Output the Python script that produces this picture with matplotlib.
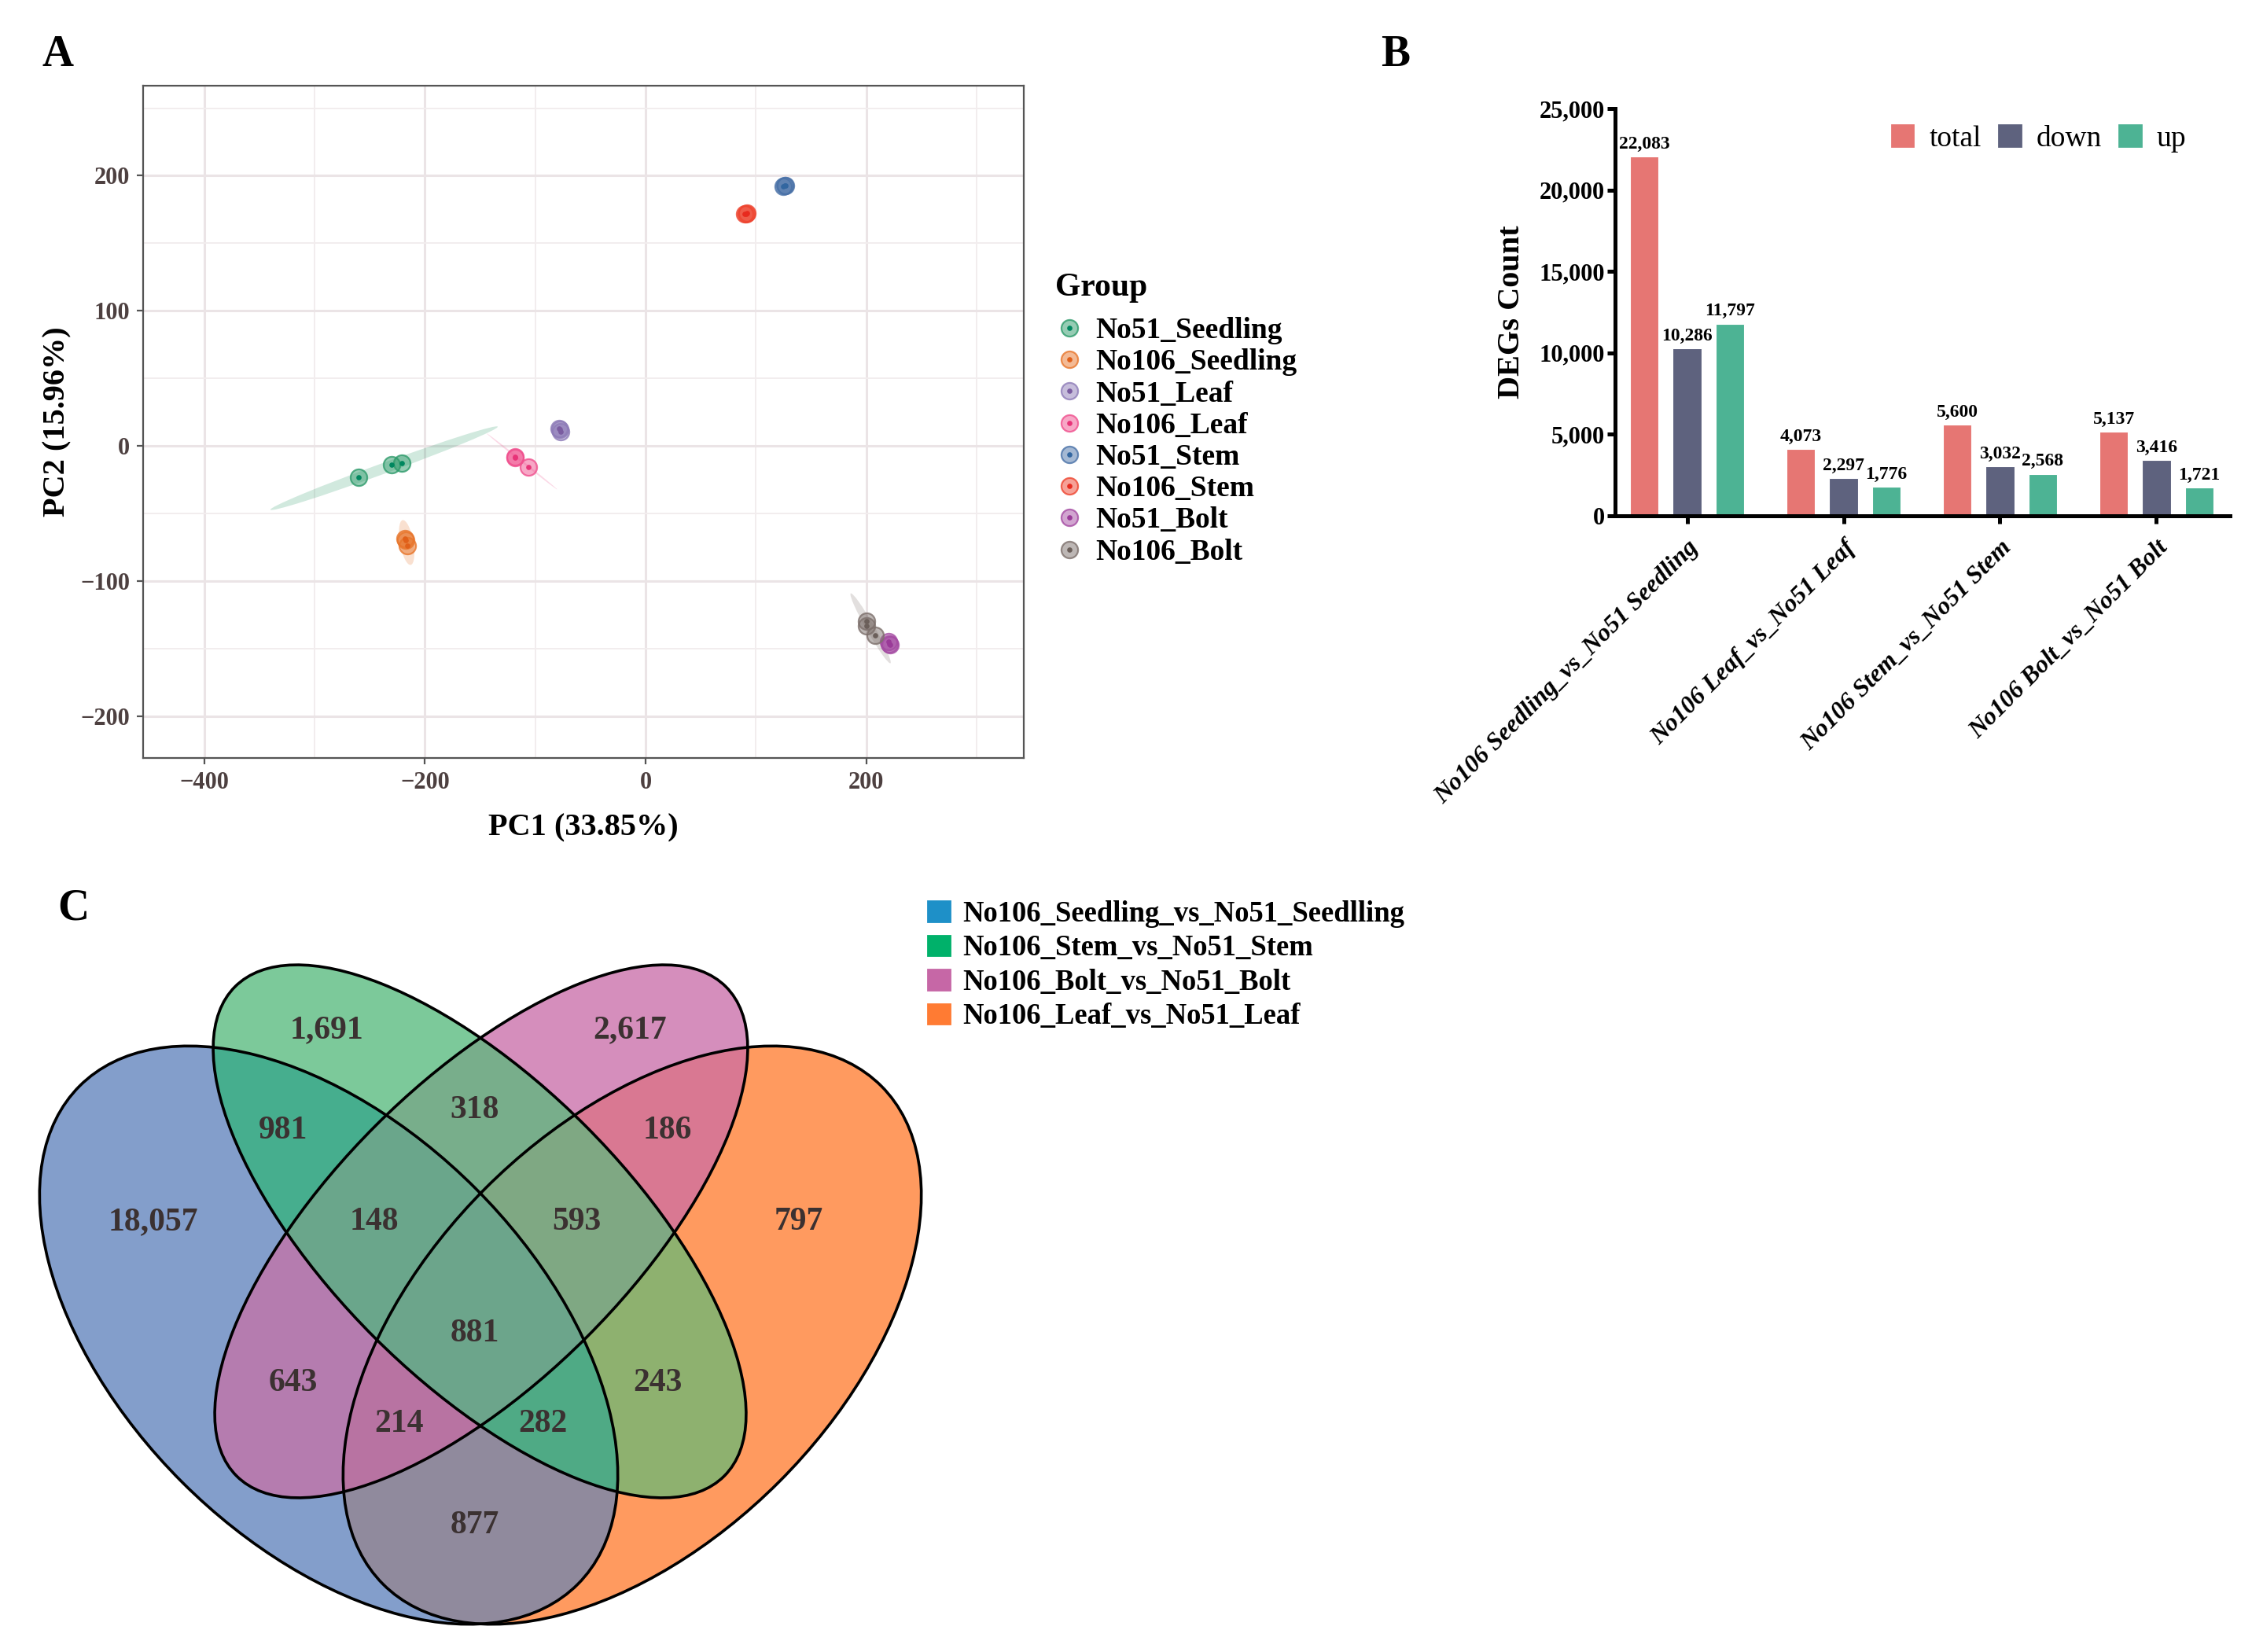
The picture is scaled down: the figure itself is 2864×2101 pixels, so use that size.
import numpy as np
import matplotlib.pyplot as plt
from matplotlib.patches import Ellipse, Patch
from matplotlib.lines import Line2D
from matplotlib.ticker import FuncFormatter, MultipleLocator
from matplotlib.colors import to_rgba

plt.rcParams['font.family'] = ['Liberation Serif', 'DejaVu Serif']
plt.rcParams['font.weight'] = 'bold'

# ---------------- data ----------------
# A: PCA scores, three replicates per group
groups = ['No51_Seedling', 'No106_Seedling', 'No51_Leaf', 'No106_Leaf',
          'No51_Stem', 'No106_Stem', 'No51_Bolt', 'No106_Bolt']
pc1 = [[-260, -230, -221], [-218, -216, -217], [-78, -77, -78.5], [-118, -106, -118.5],
       [125, 127, 126], [90, 92, 91], [220, 222, 221], [200.5, 200.5, 208]]
pc2 = [[-23.4, -13.7, -12.5], [-68.5, -74, -70], [12, 10.5, 13], [-8, -15.4, -8.5],
       [192, 193, 192.5], [171.5, 172.5, 172], [-145, -147, -146.5], [-130, -133.5, -140]]
# confidence ellipses (centre, major, minor, angle) for the groups that show one
ell_groups = ['No51_Seedling', 'No106_Seedling', 'No106_Leaf', 'No106_Bolt']
ell_cx = [-237, -216.5, -112, 204]
ell_cy = [-16.5, -71.5, -11.5, -135]
ell_major = [215, 34, 76, 63]
ell_minor = [8, 12, 1.5, 7]
ell_angle = [16.6, 103, -33, -55]

# B: DEG counts
comparisons = ['No106 Seedling_vs_No51 Seedling', 'No106 Leaf_vs_No51 Leaf',
               'No106 Stem_vs_No51 Stem', 'No106 Bolt_vs_No51 Bolt']
total = [22083, 4073, 5600, 5137]
down = [10286, 2297, 3032, 3416]
up = [11797, 1776, 2568, 1721]

# C: Venn region counts (A=Seedling, B=Stem, C=Bolt, D=Leaf), key = region code
venn_sets = ['No106_Seedling_vs_No51_Seedlling', 'No106_Stem_vs_No51_Stem',
             'No106_Bolt_vs_No51_Bolt', 'No106_Leaf_vs_No51_Leaf']
venn_counts = {1: 18057, 2: 1691, 4: 2617, 8: 797, 3: 981, 6: 318, 12: 186,
               7: 148, 14: 593, 15: 881, 5: 643, 10: 243, 13: 214, 11: 282, 9: 877}

# ---------------- styles ----------------
pt_col = ['#2E9B6B', '#E8762C', '#8E7CB8', '#F0508E', '#4A72A8', '#EE4530', '#A54CA3', '#7D706C']
dot_col = ['#00875F', '#E0601A', '#7A5CA0', '#E83378', '#3266A0', '#E82A1E', '#9A3A98', '#6B5F5A']
bar_col = {'total': '#E67673', 'down': '#5E627E', 'up': '#4DB394'}
venn_legend_col = ['#1E90C8', '#00B16A', '#C667A6', '#FF7B33']
region_col = {1: '#839ECB', 2: '#7CC99A', 4: '#D58EBC', 8: '#FF9A5F', 3: '#46AE8E',
              6: '#78AE8B', 12: '#D97892', 9: '#908A9D', 5: '#B57CAF', 10: '#8EB16F',
              7: '#6AA68B', 14: '#7FA883', 13: '#B873A2', 11: '#4FAA85', 15: '#6CA58B'}
# venn geometry in pixel units: cx, cy, semi-major, semi-minor, angle (y down)
venn_geom = [(418, 1698, 448, 264, 45), (610, 1566, 440, 190, 45),
             (612, 1566, 440, 190, -45), (804, 1698, 448, 264, -45)]
venn_label_pos = {1: (195, 1554), 2: (415, 1310), 4: (801, 1310), 8: (1016, 1554),
                  3: (360, 1438), 6: (604, 1412), 12: (849, 1438), 7: (476, 1554),
                  14: (733, 1554), 15: (604, 1696), 5: (373, 1759), 10: (836, 1759),
                  13: (507, 1811), 11: (690, 1811), 9: (604, 1940)}

W, H = 2864, 2101
fig = plt.figure(figsize=(W / 200, H / 200), dpi=200)

# ---------------- panel A ----------------
ax_a = fig.add_axes([182 / W, 1 - 964 / H, (1301.5 - 182) / W, (964 - 108.7) / H])
ax_a.set_xlim(-455.4, 342.5)
ax_a.set_ylim(-231, 266.8)
ax_a.set_xticks([-400, -200, 0, 200])
ax_a.set_yticks([-200, -100, 0, 100, 200])
ax_a.xaxis.set_minor_locator(MultipleLocator(100))
ax_a.yaxis.set_minor_locator(MultipleLocator(50))
ax_a.grid(which='major', color='#EBE4E6', lw=1.1)
ax_a.grid(which='minor', color='#F2EDEE', lw=0.7)
ax_a.set_axisbelow(True)
for s in ax_a.spines.values():
    s.set_color('#555555')
    s.set_linewidth(0.8)
ax_a.tick_params(which='major', length=3, width=0.8, color='#555555',
                 labelsize=11, labelcolor='#4D4040', pad=3)
ax_a.tick_params(which='minor', length=0)

for i, g in enumerate(ell_groups):
    k = groups.index(g)
    ax_a.add_patch(Ellipse((ell_cx[i], ell_cy[i]), ell_major[i], ell_minor[i], angle=ell_angle[i],
                           facecolor=to_rgba(pt_col[k], 0.22), edgecolor='none', zorder=2))

handles = []
for k, g in enumerate(groups):
    ax_a.plot(pc1[k], pc2[k], 'o', ms=7.6, mfc=to_rgba(pt_col[k], 0.5),
              mec=to_rgba(pt_col[k], 0.8), mew=0.8, zorder=3)
    ax_a.plot(pc1[k], pc2[k], 'o', ms=2.4, color=dot_col[k], mew=0, zorder=4)
    h1 = Line2D([], [], marker='o', ls='', ms=7.6, mfc=to_rgba(pt_col[k], 0.5),
                mec=to_rgba(pt_col[k], 0.8), mew=0.8)
    h2 = Line2D([], [], marker='o', ls='', ms=2.4, color=dot_col[k], mew=0)
    handles.append((h1, h2))

ax_a.set_xlabel('PC1 (33.85%)', fontsize=14.5, fontweight='bold', labelpad=9)
ax_a.set_ylabel('PC2 (15.96%)', fontsize=14.5, fontweight='bold', labelpad=4)

fig.text(1342 / W, 1 - 366 / H, 'Group', ha='left', va='center', fontsize=15, fontweight='bold')
fig.legend(handles, groups, loc='upper left',
           bbox_to_anchor=(1343 / W, 1 - 403 / H), frameon=False,
           prop={'weight': 'bold', 'size': 13.5},
           handlelength=0.9, handletextpad=0.43,
           labelspacing=0.14, borderpad=0, borderaxespad=0)

# ---------------- panel B ----------------
ax_b = fig.add_axes([2054 / W, 1 - 655.7 / H, (2836 - 2054) / W, (655.7 - 138.3) / H])
x = np.arange(len(comparisons))
bw, off = 0.183, 0.273
for vals, name, dx in [(total, 'total', -off), (down, 'down', 0), (up, 'up', off)]:
    ax_b.bar(x + dx, vals, width=bw, color=bar_col[name], edgecolor='white', lw=0.4, label=name)
    for xi, v in zip(x + dx, vals):
        ax_b.text(xi, v + 250, f'{v:,}', ha='center', va='bottom', fontsize=8.5, fontweight='bold')
ax_b.set_xlim(-0.46, 3.47)
ax_b.set_ylim(0, 25000)
ax_b.set_yticks([0, 5000, 10000, 15000, 20000, 25000])
ax_b.yaxis.set_major_formatter(FuncFormatter(lambda v, p: f'{int(v):,}'))
ax_b.set_xticks(x)
ax_b.set_xticklabels(comparisons, rotation=45, ha='right', va='top', rotation_mode='anchor',
                     fontsize=11.5, fontweight='bold', fontstyle='italic')
for s in ['top', 'right']:
    ax_b.spines[s].set_visible(False)
for s in ['left', 'bottom']:
    ax_b.spines[s].set_linewidth(1.8)
ax_b.tick_params(axis='y', length=3.6, width=1.8, labelsize=11, pad=1)
ax_b.tick_params(axis='x', length=3.6, width=1.8, pad=6)
ax_b.set_ylabel('DEGs Count', fontsize=14.5, fontweight='bold', labelpad=6)
fig.legend([Patch(color=bar_col[n]) for n in ['total', 'down', 'up']], ['total', 'down', 'up'],
           loc='upper right', bbox_to_anchor=(2780 / W, 1 - 159 / H), ncol=3, frameon=False,
           prop={'weight': 'normal', 'size': 13.5}, handlelength=0.73, handleheight=0.72,
           handletextpad=0.53, columnspacing=0.6, borderpad=0, borderaxespad=0)

# ---------------- panel C ----------------
x0, x1, y0, y1 = 0, 1850, 1100, 2101
ax_c = fig.add_axes([x0 / W, 1 - y1 / H, (x1 - x0) / W, (y1 - y0) / H])
ax_c.set_xlim(x0, x1)
ax_c.set_ylim(y1, y0)
ax_c.axis('off')
X, Y = np.meshgrid(np.arange(x0, x1) + 0.5, np.arange(y0, y1) + 0.5)
code = np.zeros(X.shape, dtype=int)
for j, (cx, cy, a, b, ang) in enumerate(venn_geom):
    t = np.deg2rad(ang)
    u = (X - cx) * np.cos(t) + (Y - cy) * np.sin(t)
    v = -(X - cx) * np.sin(t) + (Y - cy) * np.cos(t)
    code += ((u / a) ** 2 + (v / b) ** 2 <= 1).astype(int) << j
img = np.zeros(X.shape + (4,))
for c, col in region_col.items():
    img[code == c] = to_rgba(col)
ax_c.imshow(img, extent=(x0, x1, y1, y0), origin='upper', interpolation='antialiased', zorder=1)
for cx, cy, a, b, ang in venn_geom:
    ax_c.add_patch(Ellipse((cx, cy), 2 * a, 2 * b, angle=ang, fill=False,
                           edgecolor='black', lw=1.3, zorder=2))
for c, n in venn_counts.items():
    px, py = venn_label_pos[c]
    ax_c.text(px, py, f'{n:,}', ha='center', va='center', fontsize=15,
              fontweight='bold', color='#3B3131', zorder=3)
fig.legend([Patch(color=c) for c in venn_legend_col], venn_sets, loc='upper left',
           bbox_to_anchor=(1180 / W, 1 - 1145 / H), frameon=False,
           prop={'weight': 'bold', 'size': 13.2}, handlelength=0.75, handleheight=0.7,
           handletextpad=0.45, labelspacing=0.23, borderpad=0, borderaxespad=0)

# panel letters
for lab, px, py in [('A', 73, 70), ('B', 1775, 70), ('C', 93, 1156)]:
    fig.text(px / W, 1 - py / H, lab, ha='center', va='center', fontsize=20, fontweight='bold')

fig.savefig('out.png', dpi=200)
